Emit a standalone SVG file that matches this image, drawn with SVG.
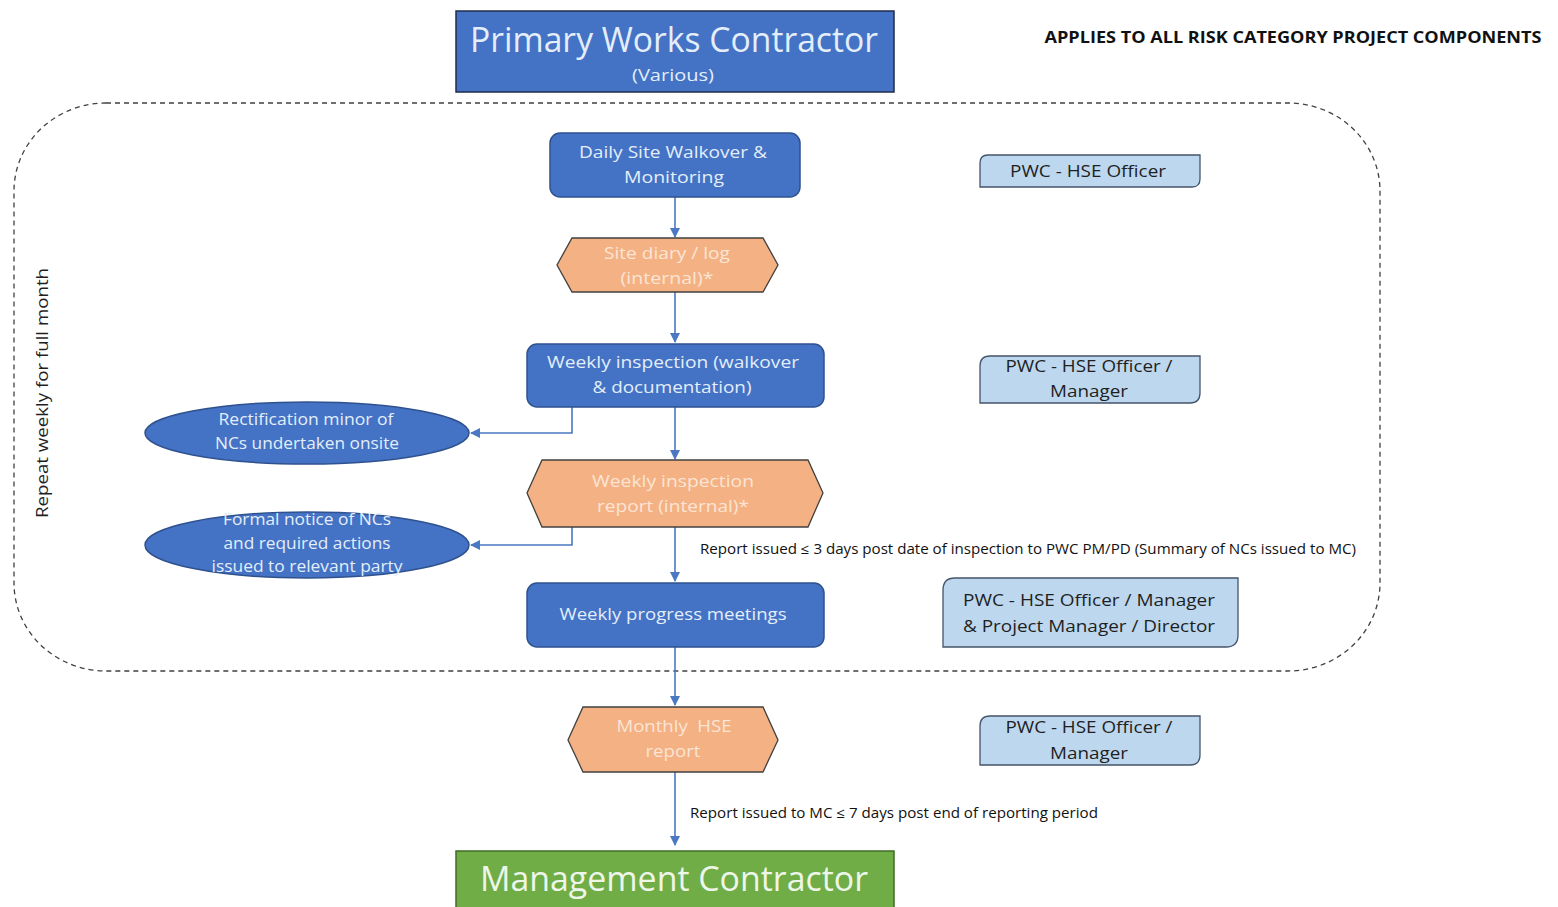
<svg xmlns="http://www.w3.org/2000/svg" width="1558" height="907" viewBox="0 0 1558 907">
<defs>
<style>
text{font-family:"Open Sans","Noto Sans","Liberation Sans",sans-serif;text-anchor:middle}
.blue{fill:#4472C4;stroke:#2F528F;stroke-width:1.5}
.org{fill:#F4B183;stroke:#404040;stroke-width:1.3}
.lb{fill:#BDD7EE;stroke:#44546A;stroke-width:1.3}
.wt{fill:#E3EEFA;font-size:17px}
.ot{fill:#FBE5D6;font-size:17px}
.dt{fill:#1F1F1F;font-size:17px}
.sm{fill:#111;font-size:14px;text-anchor:start}
.con{fill:none;stroke:#4A78C2;stroke-width:1.6}
</style>
<marker id="ah" viewBox="0 0 10 10" refX="9" refY="5" markerWidth="10" markerHeight="10" orient="auto" markerUnits="userSpaceOnUse">
<path d="M0,0 L10,5 L0,10 z" fill="#4A78C2"/>
</marker>
</defs>
<rect width="1558" height="907" fill="#ffffff"/>

<g id="repeat-region">
<rect x="14" y="103" width="1366" height="568" rx="92" ry="88" fill="none" stroke="#404040" stroke-width="1.3" stroke-dasharray="5,4"/>
<text x="48" y="393" transform="rotate(-90 48 393)" class="dt" textLength="250" lengthAdjust="spacingAndGlyphs">Repeat weekly for full month</text>
</g>

<g id="header">
<text x="1293" y="43" style="font-size:16px;font-weight:bold;fill:#111" textLength="497" lengthAdjust="spacingAndGlyphs">APPLIES TO ALL RISK CATEGORY PROJECT COMPONENTS</text>
</g>

<g id="pwc">
<rect x="456" y="11" width="438" height="81" class="blue" style="stroke:#1f2d4a"/>
<text x="674" y="52" class="wt" style="font-size:34px" textLength="408" lengthAdjust="spacingAndGlyphs">Primary Works Contractor</text>
<text x="673" y="81" class="wt" style="font-size:16px" textLength="82" lengthAdjust="spacingAndGlyphs">(Various)</text>
</g>

<g id="connectors">
<line x1="675" y1="197" x2="675" y2="237" class="con" marker-end="url(#ah)"/>
<line x1="675" y1="292" x2="675" y2="342" class="con" marker-end="url(#ah)"/>
<line x1="675" y1="407" x2="675" y2="459" class="con" marker-end="url(#ah)"/>
<polyline points="572,407 572,433 471,433" class="con" marker-end="url(#ah)"/>
<line x1="675" y1="527" x2="675" y2="581" class="con" marker-end="url(#ah)"/>
<polyline points="572,527 572,545 471,545" class="con" marker-end="url(#ah)"/>
<line x1="675" y1="647" x2="675" y2="705" class="con" marker-end="url(#ah)"/>
<line x1="675" y1="772" x2="675" y2="845" class="con" marker-end="url(#ah)"/>
<text x="700" y="554" class="sm" textLength="656" lengthAdjust="spacingAndGlyphs">Report issued ≤ 3 days post date of inspection to PWC PM/PD (Summary of NCs issued to MC)</text>
<text x="690" y="818" class="sm" textLength="408" lengthAdjust="spacingAndGlyphs">Report issued to MC ≤ 7 days post end of reporting period</text>
</g>

<g id="daily">
<rect x="550" y="133" width="250" height="64" rx="10" class="blue"/>
<text x="673" y="158" class="wt" textLength="188" lengthAdjust="spacingAndGlyphs">Daily Site Walkover &amp;</text>
<text x="674" y="183" class="wt" textLength="100" lengthAdjust="spacingAndGlyphs">Monitoring</text>
</g>

<g id="site-diary">
<polygon points="572,238 763,238 778,265 763,292 572,292 557,265" class="org"/>
<text x="667" y="259" class="ot" textLength="126" lengthAdjust="spacingAndGlyphs">Site diary / log</text>
<text x="667" y="284" class="ot" textLength="93" lengthAdjust="spacingAndGlyphs">(internal)*</text>
</g>

<g id="weekly-inspection">
<rect x="527" y="344" width="297" height="63" rx="10" class="blue"/>
<text x="673" y="368" class="wt" textLength="252" lengthAdjust="spacingAndGlyphs">Weekly inspection (walkover</text>
<text x="672" y="393" class="wt" textLength="159" lengthAdjust="spacingAndGlyphs">&amp; documentation)</text>
</g>

<g id="rectification">
<ellipse cx="307" cy="433" rx="162" ry="31" class="blue"/>
<text x="306" y="425" class="wt" textLength="175" lengthAdjust="spacingAndGlyphs">Rectification minor of</text>
<text x="307" y="449" class="wt" textLength="184" lengthAdjust="spacingAndGlyphs">NCs undertaken onsite</text>
</g>

<g id="weekly-report">
<polygon points="542,460 808,460 823,493 808,527 542,527 527,493" class="org"/>
<text x="673" y="487" class="ot" textLength="162" lengthAdjust="spacingAndGlyphs">Weekly inspection</text>
<text x="673" y="512" class="ot" textLength="152" lengthAdjust="spacingAndGlyphs">report (internal)*</text>
</g>

<g id="formal-notice">
<ellipse cx="307" cy="545" rx="162" ry="33" class="blue"/>
<text x="307" y="525" class="wt" textLength="168" lengthAdjust="spacingAndGlyphs">Formal notice of NCs</text>
<text x="307" y="549" class="wt" textLength="167" lengthAdjust="spacingAndGlyphs">and required actions</text>
<text x="307" y="572" class="wt" textLength="191" lengthAdjust="spacingAndGlyphs">issued to relevant party</text>
</g>

<g id="progress">
<rect x="527" y="583" width="297" height="64" rx="10" class="blue"/>
<text x="673" y="620" class="wt" textLength="227" lengthAdjust="spacingAndGlyphs">Weekly progress meetings</text>
</g>

<g id="monthly">
<polygon points="583,707 763,707 778,740 763,772 583,772 568,740" class="org"/>
<text x="674" y="732" class="ot" style="white-space:pre" textLength="115" lengthAdjust="spacingAndGlyphs">Monthly  HSE</text>
<text x="673" y="757" class="ot" textLength="55" lengthAdjust="spacingAndGlyphs">report</text>
</g>

<g id="mc">
<rect x="456" y="851" width="438" height="60" fill="#70AD47" stroke="#3f6b26" stroke-width="1.5"/>
<text x="674" y="891" class="wt" style="font-size:34px;fill:#EEF6EA" textLength="388" lengthAdjust="spacingAndGlyphs">Management Contractor</text>
</g>

<g id="role-daily">
<path d="M988,155 H1200 V179 Q1200,187 1192,187 H980 V163 Q980,155 988,155 Z" class="lb"/>
<text x="1088" y="177" class="dt" textLength="156" lengthAdjust="spacingAndGlyphs">PWC - HSE Officer</text>
</g>

<g id="role-weekly">
<path d="M990,356 H1200 V393 Q1200,403 1190,403 H980 V366 Q980,356 990,356 Z" class="lb"/>
<text x="1089" y="372" class="dt" textLength="167" lengthAdjust="spacingAndGlyphs">PWC - HSE Officer /</text>
<text x="1089" y="397" class="dt" textLength="78" lengthAdjust="spacingAndGlyphs">Manager</text>
</g>

<g id="role-progress">
<path d="M955,578 H1238 V635 Q1238,647 1226,647 H943 V590 Q943,578 955,578 Z" class="lb"/>
<text x="1089" y="606" class="dt" textLength="252" lengthAdjust="spacingAndGlyphs">PWC - HSE Officer / Manager</text>
<text x="1089" y="632" class="dt" textLength="252" lengthAdjust="spacingAndGlyphs">&amp; Project Manager / Director</text>
</g>

<g id="role-monthly">
<path d="M990,716 H1200 V755 Q1200,765 1190,765 H980 V726 Q980,716 990,716 Z" class="lb"/>
<text x="1089" y="733" class="dt" textLength="167" lengthAdjust="spacingAndGlyphs">PWC - HSE Officer /</text>
<text x="1089" y="759" class="dt" textLength="78" lengthAdjust="spacingAndGlyphs">Manager</text>
</g>
</svg>
